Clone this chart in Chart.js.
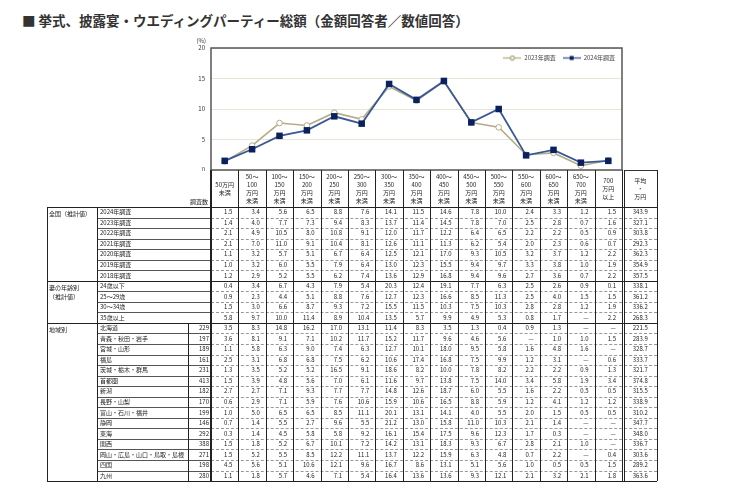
<!DOCTYPE html>
<html lang="ja">
<head>
<meta charset="utf-8">
<script src="https://cdn.jsdelivr.net/npm/chart.js@4.4.1/dist/chart.umd.min.js"></script>
<style>
  html, body { margin: 0; padding: 0; background: #fff; }
  body { width: 750px; height: 488px; position: relative; overflow: hidden;
         font-family: "Noto Sans CJK JP", "Noto Sans", sans-serif; color: #222; }
  #title { position: absolute; left: 22px; top: 10px; font-size: 13.5px; font-weight: bold;
           color: #333; white-space: nowrap; }
  #chartBox { position: absolute; left: 180px; top: 36px; width: 444px; height: 135px; }
  #tbl { position: absolute; left: 0; top: 0; width: 750px; height: 488px; pointer-events: none; }
  #tbl div { position: absolute; box-sizing: border-box; }
  .txt { display: flex; align-items: center; font-size: 6px; line-height: 1; white-space: nowrap; color: #222; }
  .head { flex-direction: column; justify-content: center; text-align: center; line-height: 8px; }
</style>
</head>
<body>
<div id="title">■ 挙式、披露宴・ウエディングパーティー総額（金額回答者／数値回答）</div>
<div id="chartBox"><canvas id="c"></canvas></div>
<div id="tbl"></div>
<script>
// price bands (万円)
const categories = [
  '50万円\n未満', '50～\n100\n万円\n未満', '100～\n150\n万円\n未満', '150～\n200\n万円\n未満',
  '200～\n250\n万円\n未満', '250～\n300\n万円\n未満', '300～\n350\n万円\n未満', '350～\n400\n万円\n未満',
  '400～\n450\n万円\n未満', '450～\n500\n万円\n未満', '500～\n550\n万円\n未満', '550～\n600\n万円\n未満',
  '600～\n650\n万円\n未満', '650～\n700\n万円\n未満', '700\n万円\n以上'
];
const avgHeader = '平均\n・\n万円';
const yTicks = [0, 5, 10, 15, 20];

const series2024 = [1.5, 3.4, 5.6, 6.5, 8.8, 7.6, 14.1, 11.5, 14.6, 7.8, 10.0, 2.4, 3.3, 1.2, 1.5];
const series2023 = [1.4, 4.0, 7.7, 7.3, 9.4, 8.3, 13.7, 11.4, 14.5, 7.8, 7.0, 2.5, 2.8, 0.7, 1.6];

const nationalLabels = ['2024年調査', '2023年調査', '2022年調査', '2021年調査', '2020年調査', '2019年調査', '2018年調査'];
const nationalValues = [
  series2024,
  series2023,
  [2.1, 4.9, 10.5, 8.0, 10.8, 9.1, 12.0, 11.7, 12.2, 6.4, 6.5, 2.2, 2.2, 0.5, 0.9],
  [2.1, 7.0, 11.0, 9.1, 10.4, 8.1, 12.6, 11.1, 11.3, 6.2, 5.4, 2.0, 2.3, 0.6, 0.7],
  [1.1, 3.2, 5.7, 5.1, 6.7, 6.4, 12.5, 12.1, 17.0, 9.3, 10.5, 3.2, 3.7, 1.2, 2.2],
  [1.0, 3.2, 6.0, 5.5, 7.9, 6.4, 13.0, 12.3, 15.5, 9.4, 9.7, 3.3, 3.8, 1.0, 1.9],
  [1.2, 2.9, 5.2, 5.5, 6.2, 7.4, 13.6, 12.9, 16.8, 9.4, 9.6, 2.7, 3.6, 0.7, 2.2]
];
const nationalAvg = [343.9, 327.1, 303.8, 292.3, 362.3, 354.9, 357.5];

const ageLabels = ['24歳以下', '25～29歳', '30～34歳', '35歳以上'];
const ageValues = [
  [0.4, 3.4, 6.7, 4.3, 7.9, 5.4, 20.3, 12.4, 19.1, 7.7, 6.3, 2.5, 2.6, 0.9, 0.1],
  [0.9, 2.3, 4.4, 5.1, 8.8, 7.6, 12.7, 12.3, 16.6, 8.5, 11.3, 2.5, 4.0, 1.5, 1.5],
  [1.5, 3.0, 6.6, 8.7, 9.3, 7.2, 15.5, 11.5, 10.3, 7.5, 10.3, 2.8, 2.8, 1.2, 1.9],
  [5.8, 9.7, 10.0, 11.4, 8.9, 10.4, 13.5, 5.7, 9.9, 4.9, 5.3, 0.8, 1.7, null, 2.2]
];
const ageAvg = [338.1, 361.2, 336.2, 268.3];

const regionLabels = ['北海道', '青森・秋田・岩手', '宮城・山形', '福島', '茨城・栃木・群馬', '首都圏', '新潟',
  '長野・山梨', '富山・石川・福井', '静岡', '東海', '関西', '岡山・広島・山口・鳥取・島根', '四国', '九州'];
const regionCounts = [229, 197, 189, 161, 231, 413, 182, 170, 199, 146, 292, 388, 271, 198, 280];
const regionValues = [
  [3.5, 8.3, 14.8, 16.2, 17.0, 13.1, 11.4, 8.3, 3.5, 1.3, 0.4, 0.9, 1.3, null, null],
  [3.6, 8.1, 9.1, 7.1, 10.2, 11.7, 15.2, 11.7, 9.6, 4.6, 5.6, null, 1.0, 1.0, 1.5],
  [1.1, 5.8, 6.3, 9.0, 7.4, 6.3, 12.7, 10.1, 18.0, 9.5, 5.8, 1.6, 4.8, 1.6, null],
  [2.5, 3.1, 6.8, 6.8, 7.5, 6.2, 10.6, 17.4, 16.8, 7.5, 9.9, 1.2, 3.1, null, 0.6],
  [1.3, 3.5, 5.2, 5.2, 16.5, 9.1, 18.6, 8.2, 10.0, 7.8, 8.2, 2.2, 2.2, 0.9, 1.3],
  [1.5, 3.9, 4.8, 5.6, 7.0, 6.1, 11.6, 9.7, 13.8, 7.5, 14.0, 3.4, 5.8, 1.9, 3.4],
  [2.7, 2.7, 7.1, 9.3, 7.7, 7.7, 14.8, 12.6, 18.7, 6.0, 5.5, 1.6, 2.2, 0.5, 0.5],
  [0.6, 2.9, 7.1, 5.9, 7.6, 10.6, 15.9, 10.6, 16.5, 8.8, 5.9, 1.2, 4.1, 1.2, 1.2],
  [1.0, 5.0, 6.5, 6.5, 8.5, 11.1, 20.1, 13.1, 14.1, 4.0, 5.5, 2.0, 1.5, 0.5, 0.5],
  [0.7, 1.4, 5.5, 2.7, 9.6, 5.5, 21.2, 13.0, 15.8, 11.0, 10.3, 2.1, 1.4, null, null],
  [0.3, 1.4, 4.5, 5.8, 5.8, 9.2, 16.1, 15.4, 17.5, 9.6, 12.3, 1.7, 0.3, null, null],
  [1.5, 1.8, 5.2, 6.7, 10.1, 7.2, 14.2, 13.1, 18.3, 9.3, 6.7, 2.8, 2.1, 1.0, null],
  [1.5, 5.2, 5.5, 8.5, 12.2, 11.1, 13.7, 12.2, 15.9, 6.3, 4.8, 0.7, 2.2, null, 0.4],
  [4.5, 5.6, 5.1, 10.6, 12.1, 9.6, 16.7, 8.6, 13.1, 5.1, 5.6, 1.0, 0.5, 0.5, 1.5],
  [1.1, 1.8, 5.7, 4.6, 7.1, 5.4, 16.4, 13.6, 13.6, 9.3, 12.1, 2.1, 3.2, 2.1, 1.8]
];
const regionAvg = [221.5, 283.9, 328.7, 333.7, 321.7, 374.8, 315.5, 338.9, 310.2, 347.7, 348.0, 336.7, 303.6, 289.2, 363.6];

const C2023 = '#b4ac86';
const C2024_LINE = '#3a5896';
const C2024_PT = '#0b215e';
const FONT = '"Noto Sans CJK JP", "Noto Sans", sans-serif';

Chart.defaults.font.family = FONT;
Chart.defaults.color = '#333';

// small legend glyphs: a line with the marker in the middle
function legendGlyph(kind) {
  const cv = document.createElement('canvas');
  cv.width = 18; cv.height = 7;
  const g = cv.getContext('2d');
  g.lineWidth = 1.3;
  g.strokeStyle = kind === 'circle' ? C2023 : C2024_LINE;
  g.beginPath(); g.moveTo(0, 3.5); g.lineTo(18, 3.5); g.stroke();
  if (kind === 'circle') {
    g.fillStyle = '#fff';
    g.beginPath(); g.arc(9, 3.5, 2, 0, Math.PI * 2); g.fill(); g.stroke();
  } else {
    g.fillStyle = C2024_PT;
    g.fillRect(7, 1.5, 4, 4);
  }
  return cv;
}
const glyphs = { '2023年調査': legendGlyph('circle'), '2024年調査': legendGlyph('rect') };

// legend floats over the plot instead of pushing it down
const floatLegend = {
  id: 'floatLegend',
  beforeInit(chart) {
    const fit = chart.legend.fit;
    chart.legend.fit = function () { fit.call(this); this.height = 0; };
  },
  afterLayout(chart) {
    // give the box back a height so its clip area is not empty
    const l = chart.legend;
    l.height = 20;
    l.bottom = l.top + 20;
  }
};

// plot frame, y labels and the (%) unit; y labels drawn here so the
// scale adds no padding of its own below the plot
const frame = {
  id: 'frame',
  afterDraw(chart) {
    const { ctx, chartArea: a } = chart;
    const ys = chart.scales.y;
    ctx.save();
    ctx.strokeStyle = '#555';
    ctx.lineWidth = 1.5;
    ctx.strokeRect(a.left, a.top, a.right - a.left, a.bottom - a.top);
    ctx.fillStyle = '#333';
    ctx.font = '6px ' + FONT;
    ctx.textAlign = 'right';
    ctx.textBaseline = 'middle';
    yTicks.forEach(v => ctx.fillText(String(v), a.left - 6, ys.getPixelForValue(v)));
    ctx.fillText('(%)', a.left - 5, a.top - 7);
    ctx.restore();
  }
};

const chart = new Chart(document.getElementById('c'), {
  type: 'line',
  data: {
    labels: categories.map(s => s.replace(/\n/g, '')),
    datasets: [
      {
        label: '2024年調査',
        data: series2024,
        borderColor: C2024_LINE,
        borderWidth: 1.8,
        pointStyle: 'rect',
        pointRadius: 4.6,
        pointBackgroundColor: C2024_PT,
        pointBorderColor: C2024_PT,
        pointBorderWidth: 0,
        order: 1
      },
      {
        label: '2023年調査',
        data: series2023,
        borderColor: C2023,
        borderWidth: 1.6,
        pointStyle: 'circle',
        pointRadius: 2.8,
        pointBackgroundColor: '#fff',
        pointBorderColor: C2023,
        pointBorderWidth: 1,
        order: 2
      }
    ]
  },
  options: {
    responsive: true,
    maintainAspectRatio: false,
    animation: false,
    layout: { autoPadding: false, padding: { top: 12, right: 2, bottom: 1, left: 0 } },
    clip: false,
    scales: {
      x: { type: 'category', offset: true, display: false },
      y: {
        min: 0, max: 20,
        afterBuildTicks: s => { s.ticks = yTicks.map(v => ({ value: v })); },
        afterFit: s => { s.width = 31; },
        ticks: { display: false },
        grid: { color: '#e9e5d6', lineWidth: 1, drawTicks: false },
        border: { display: false }
      }
    },
    plugins: {
      tooltip: { enabled: false },
      legend: {
        position: 'top',
        align: 'end',
        reverse: true,
        labels: {
          usePointStyle: true,
          pointStyleWidth: 18,
          padding: 7,
          font: { size: 6 },
          color: '#444',
          generateLabels(ch) {
            return Chart.defaults.plugins.legend.labels.generateLabels(ch)
              .map(it => Object.assign(it, { pointStyle: glyphs[it.text] }));
          }
        }
      }
    }
  },
  plugins: [floatLegend, frame]
});

// ---- table under the chart, columns taken from the chart's x scale ----
const T = document.getElementById('tbl');
const box = chart.canvas.getBoundingClientRect();
const area = chart.chartArea;
const xs = chart.scales.x;
const step = xs.getPixelForValue(1) - xs.getPixelForValue(0);
const colLeft = i => box.left + xs.getPixelForValue(i) - step / 2;
const X_D0 = colLeft(0);
const X_D1 = colLeft(categories.length);
const X_A = 47, X_B = 97, X_C = 188;
const X_E0 = X_D1 + 1.5, X_E1 = X_D1 + 35;
const TOP = box.top + area.bottom, HEAD_H = 37, ROW_H = 10.54;
const Y0 = TOP + HEAD_H;

function el(x, y, w, h, style, text, cls) {
  const d = document.createElement('div');
  d.style.left = x + 'px'; d.style.top = y + 'px';
  d.style.width = w + 'px'; d.style.height = h + 'px';
  if (style) d.style.cssText += style;
  if (cls) d.className = cls;
  if (text != null) d.textContent = text;
  T.appendChild(d);
  return d;
}
const hline = (x1, x2, y, css) => el(x1, y, x2 - x1, 0, 'border-top:' + css);
const vline = (x, y1, y2, css) => el(x, y1, 0, y2 - y1, 'border-left:' + css);
const fmt = v => v == null ? '—' : v.toFixed(1);

// header
categories.forEach((c, i) => {
  el(colLeft(i), TOP, step, HEAD_H, 'white-space:pre;', c, 'txt head');
});
el(X_E0, TOP, X_E1 - X_E0, HEAD_H, 'white-space:pre;', avgHeader, 'txt head');
el(X_C - 4, TOP, X_D0 - X_C + 1, HEAD_H - 2, 'justify-content:flex-end;align-items:flex-end;', '調査数', 'txt');
hline(X_E0, X_E1, TOP, '1.2px solid #333');

const groups = [
  { name: '全国（推計値）', labels: nationalLabels, values: nationalValues, avg: nationalAvg, counts: null },
  { name: '妻の年齢別\n（推計値）', labels: ageLabels, values: ageValues, avg: ageAvg, counts: null },
  { name: '地域別', labels: regionLabels, values: regionValues, avg: regionAvg, counts: regionCounts }
];

let r = 0;
groups.forEach(g => {
  const gy = Y0 + r * ROW_H;
  el(X_A + 2, gy + 2, X_B - X_A - 3, 20, 'white-space:pre;line-height:9px;display:block;', g.name, 'txt');
  hline(X_A, X_E1, gy, '1.2px solid #222');
  g.labels.forEach((lab, k) => {
    const y = Y0 + r * ROW_H;
    if (k > 0) {
      hline(X_B, X_D0, y, '1px solid #555');
      hline(X_D0, X_E1, y, '1px dashed #999');
    }
    const labRight = g.counts ? X_C : X_D0;
    el(X_B + 3, y, labRight - X_B - 3, ROW_H, '', lab, 'txt');
    if (g.counts) el(X_C, y, X_D0 - X_C - 2, ROW_H, 'justify-content:flex-end;', String(g.counts[k]), 'txt');
    g.values[k].forEach((v, i) => {
      el(colLeft(i), y, step - 6, ROW_H, 'justify-content:flex-end;', fmt(v), 'txt');
    });
    el(X_E0, y, X_E1 - X_E0, ROW_H, 'justify-content:center;', g.avg[k].toFixed(1), 'txt');
    r++;
  });
  if (g.counts) vline(X_C, gy, Y0 + r * ROW_H, '1px solid #222');
});
const YB = Y0 + r * ROW_H;
hline(X_A, X_E1, YB, '1.2px solid #222');
vline(X_A, Y0, YB, '1.2px solid #222');
vline(X_B, Y0, YB, '1px solid #222');
for (let i = 0; i <= categories.length; i++) {
  const w = (i === 0) ? '2px solid #222' : '1px solid #222';
  vline(colLeft(i) - (i === 0 ? 1 : 0), TOP, YB, w);
}
vline(X_E0, TOP, YB, '1.2px solid #222');
vline(X_E1, TOP, YB, '1.2px solid #222');
</script>
</body>
</html>
